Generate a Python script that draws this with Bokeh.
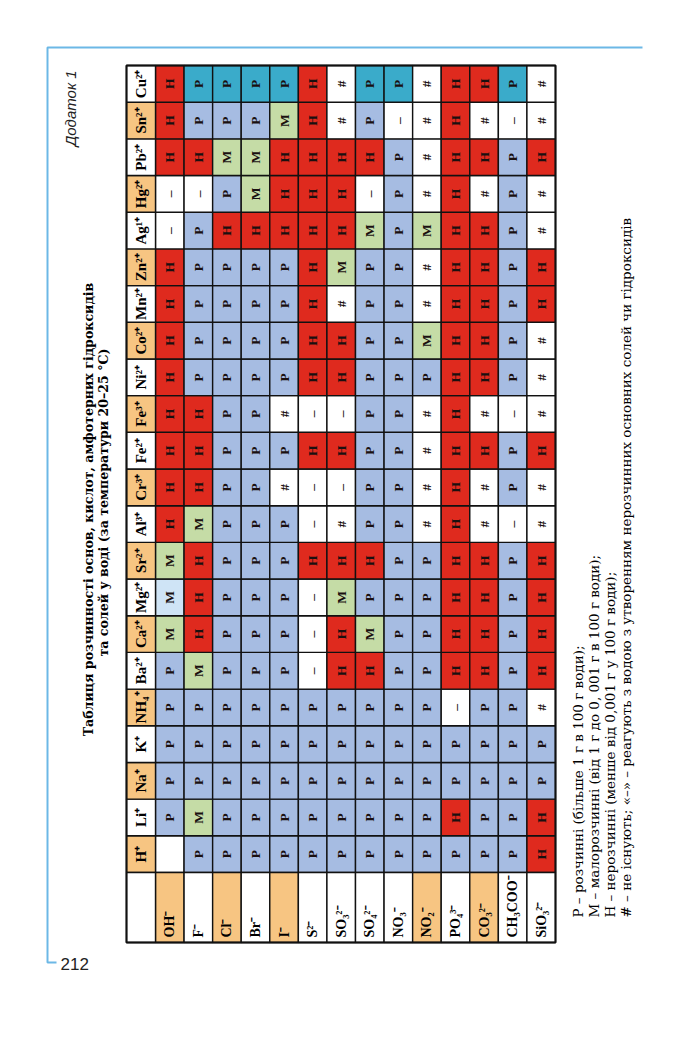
import math
from bokeh.plotting import figure
from bokeh.models import ColumnDataSource, Range1d
from bokeh.core.properties import value
from bokeh.embed import file_html
from bokeh.resources import INLINE

# ---------------- data ----------------
anions = ["OH⁻", "F⁻", "Cl⁻", "Br⁻", "I⁻", "S²⁻", "SO₃²⁻", "SO₄²⁻", "NO₃⁻",
          "NO₂⁻", "PO₄³⁻", "CO₃²⁻", "CH₃COO⁻", "SiO₃²⁻"]
# cations listed from the bottom row of the (rotated) table to the top row
cations = ["H⁺", "Li⁺", "Na⁺", "K⁺", "NH₄⁺", "Ba²⁺", "Ca²⁺", "Mg²⁺", "Sr²⁺",
           "Al³⁺", "Cr³⁺", "Fe²⁺", "Fe³⁺", "Ni²⁺", "Co²⁺", "Mn²⁺", "Zn²⁺",
           "Ag¹⁺", "Hg²⁺", "Pb²⁺", "Sn²⁺", "Cu²⁺"]

H_row  = ["",  "Р", "Р", "Р", "Р", "Р", "Р", "Р", "Р", "Р", "Р", "Р", "Р", "Н"]
Li_row = ["Р", "М", "Р", "Р", "Р", "Р", "Р", "Р", "Р", "Р", "Н", "Р", "Р", "Н"]
Na_row = ["Р", "Р", "Р", "Р", "Р", "Р", "Р", "Р", "Р", "Р", "Р", "Р", "Р", "Р"]
K_row  = ["Р", "Р", "Р", "Р", "Р", "Р", "Р", "Р", "Р", "Р", "Р", "Р", "Р", "Р"]
NH4_row = ["Р", "Р", "Р", "Р", "Р", "Р", "Р", "Р", "Р", "Р", "–", "Р", "Р", "#"]
Ba_row = ["Р", "М", "Р", "Р", "Р", "–", "Н", "Н", "Р", "Р", "Н", "Н", "Р", "Н"]
Ca_row = ["М", "Н", "Р", "Р", "Р", "–", "Н", "М", "Р", "Р", "Н", "Н", "Р", "Н"]
Mg_row = ["М", "Н", "Р", "Р", "Р", "–", "М", "Р", "Р", "Р", "Н", "Н", "Р", "Н"]
Sr_row = ["М", "Н", "Р", "Р", "Р", "Н", "Н", "Н", "Р", "Р", "Н", "Н", "Р", "Н"]
Al_row = ["Н", "М", "Р", "Р", "Р", "–", "#", "Р", "Р", "#", "Н", "#", "–", "#"]
Cr_row = ["Н", "Н", "Р", "Р", "#", "–", "–", "Р", "Р", "#", "Н", "#", "Р", "#"]
Fe2_row = ["Н", "Н", "Р", "Р", "Р", "Н", "Н", "Р", "Р", "#", "Н", "Н", "Р", "Н"]
Fe3_row = ["Н", "Н", "Р", "Р", "#", "–", "–", "Р", "Р", "#", "Н", "#", "–", "#"]
Ni_row = ["Н", "Р", "Р", "Р", "Р", "Н", "Н", "Р", "Р", "Р", "Н", "Н", "Р", "#"]
Co_row = ["Н", "Р", "Р", "Р", "Р", "Н", "Н", "Р", "Р", "М", "Н", "Н", "Р", "#"]
Mn_row = ["Н", "Р", "Р", "Р", "Р", "Н", "#", "Р", "Р", "#", "Н", "Н", "Р", "Н"]
Zn_row = ["Н", "Р", "Р", "Р", "Р", "Н", "М", "Р", "Р", "#", "Н", "Н", "Р", "Н"]
Ag_row = ["–", "Р", "Н", "Н", "Н", "Н", "Н", "М", "Р", "М", "Н", "Н", "Р", "#"]
Hg_row = ["–", "–", "Р", "М", "Н", "Н", "Н", "–", "Р", "#", "Н", "#", "Р", "#"]
Pb_row = ["Н", "Н", "М", "М", "Н", "Н", "Н", "Н", "Р", "#", "Н", "Н", "Р", "Н"]
Sn_row = ["Н", "Р", "Р", "Р", "М", "Н", "#", "Р", "–", "#", "Н", "#", "–", "#"]
Cu_row = ["Н", "Р", "Р", "Р", "Р", "Н", "#", "Р", "Р", "#", "Н", "Н", "Р", "#"]

rows = [H_row, Li_row, Na_row, K_row, NH4_row, Ba_row, Ca_row, Mg_row, Sr_row,
        Al_row, Cr_row, Fe2_row, Fe3_row, Ni_row, Co_row, Mn_row, Zn_row,
        Ag_row, Hg_row, Pb_row, Sn_row, Cu_row]

title_lines = ["Таблиця розчинності основ, кислот, амфотерних гідроксидів",
               "та солей у воді (за температури 20–25 °С)"]
legend_lines = ["Р – розчинні (більше 1 г в 100 г води);",
                "М – малорозчинні (від 1 г до 0, 001 г в 100 г води);",
                "Н – нерозчинні (менше від 0,001 г у 100 г води);",
                "# – не існують; «–» – реагують з водою з утворенням нерозчинних основних солей чи гідроксидів"]

# ---------------- styles ----------------
C_P, C_M, C_H, C_W = "#a6bce2", "#c5dca6", "#df2a1e", "#ffffff"
C_TEAL, C_LIGHT = "#3aabca", "#cfe4f6"
C_ORANGE = "#f7c582"
BLUE_FRAME = "#6cb8e6"
special_P_color = {"Cu²⁺": C_TEAL}
special_cell = {("Mg²⁺", "OH⁻"): C_LIGHT}
anion_head_fill = [C_ORANGE, C_W, C_ORANGE, C_W, C_ORANGE, C_W, C_W, C_W, C_W,
                   C_ORANGE, C_W, C_ORANGE, C_W, C_W]

SERIF = value("Liberation Serif")
WIDE_SERIF = value("DejaVu Serif")

# ---------------- layout ----------------
W, HT = 684, 1021
X0, LW, X1 = 126.0, 29.0, 555.0
Y0, YR, Y1 = 65.0, 872.0, 942.0
cw = (X1 - X0 - LW) / len(anions)
rh = (YR - Y0) / len(cations)

p = figure(width=W, height=HT, output_backend="svg", toolbar_location=None,
           x_range=Range1d(0, W), y_range=Range1d(HT, 0),
           x_axis_location=None, y_axis_location=None, min_border=0)
p.grid.visible = False
p.outline_line_color = None
p.background_fill_color = "white"

xs, ys, fills, texts = [], [], [], []
for i, cat in enumerate(cations):
    for j, an in enumerate(anions):
        v = rows[i][j]
        if v == "Р":
            f = special_P_color.get(cat, C_P)
        elif v == "М":
            f = C_M
        elif v == "Н":
            f = C_H
        else:
            f = C_W
        f = special_cell.get((cat, an), f)
        xs.append(X0 + LW + (j + 0.5) * cw)
        ys.append(YR - (i + 0.5) * rh)
        fills.append(f)
        texts.append(v)
cells = ColumnDataSource(dict(x=xs, y=ys, fill=fills, text=texts))
p.rect("x", "y", width=cw, height=rh, fill_color="fill", line_color="#111111",
       line_width=1.4, source=cells)
p.text("x", "y", text="text", angle=math.pi / 2, text_align="center",
       text_baseline="middle", text_font=SERIF, text_font_style="bold",
       text_font_size="13.5px", text_color="#1a1010", source=cells)

# cation header column
cat_src = ColumnDataSource(dict(
    x=[X0 + LW / 2] * len(cations),
    y=[YR - (i + 0.5) * rh for i in range(len(cations))],
    fill=[C_ORANGE if i % 2 == 0 else C_W for i in range(len(cations))],
    text=cations))
p.rect("x", "y", width=LW, height=rh, fill_color="fill", line_color="#111111",
       line_width=1.4, source=cat_src)
p.text("x", "y", text="text", angle=math.pi / 2, text_align="center",
       text_baseline="middle", text_font=SERIF, text_font_style="bold",
       text_font_size="15px", text_color="black", source=cat_src)

# anion header row
an_src = ColumnDataSource(dict(
    x=[X0 + LW + (j + 0.5) * cw for j in range(len(anions))],
    y=[(YR + Y1) / 2] * len(anions),
    ty=[Y1 - 5] * len(anions),
    fill=anion_head_fill, text=anions))
p.rect("x", "y", width=cw, height=Y1 - YR, fill_color="fill",
       line_color="#111111", line_width=1.4, source=an_src)
p.text("x", "ty", text="text", angle=math.pi / 2, text_align="left",
       text_baseline="middle", text_font=SERIF, text_font_style="bold",
       text_font_size="14px", text_color="black", source=an_src)

# corner cell and outer border
p.rect([X0 + LW / 2], [(YR + Y1) / 2], width=LW, height=Y1 - YR,
       fill_color="white", line_color="#111111", line_width=1.4)
p.rect([(X0 + X1) / 2], [(Y0 + Y1) / 2], width=X1 - X0, height=Y1 - Y0,
       fill_color=None, line_color="#111111", line_width=2)

# title
p.text([88, 103], [509, 502], text=title_lines, angle=math.pi / 2,
       text_align="center", text_baseline="middle", text_font=WIDE_SERIF,
       text_font_style="bold", text_font_size="12.6px", text_color="black")

# legend
p.text([577, 593, 609, 625], [917] * 4, text=legend_lines, angle=math.pi / 2,
       text_align="left", text_baseline="middle", text_font=WIDE_SERIF,
       text_font_size="13.5px", text_color="black")

# page furniture
p.line([642, 47, 47, 56], [47, 47, 962, 962], line_color=BLUE_FRAME,
       line_width=2)
p.text([70], [70], text=["Додаток 1"], angle=math.pi / 2, text_align="right",
       text_baseline="middle", text_font=value("Liberation Sans"),
       text_font_style="italic", text_font_size="15px", text_color="#222222")
p.text([60], [963], text=["212"], text_align="left", text_baseline="middle",
       text_font=value("Liberation Sans"), text_font_size="17px",
       text_color="#222222")

open("out.html", "w").write(file_html(p, INLINE))
